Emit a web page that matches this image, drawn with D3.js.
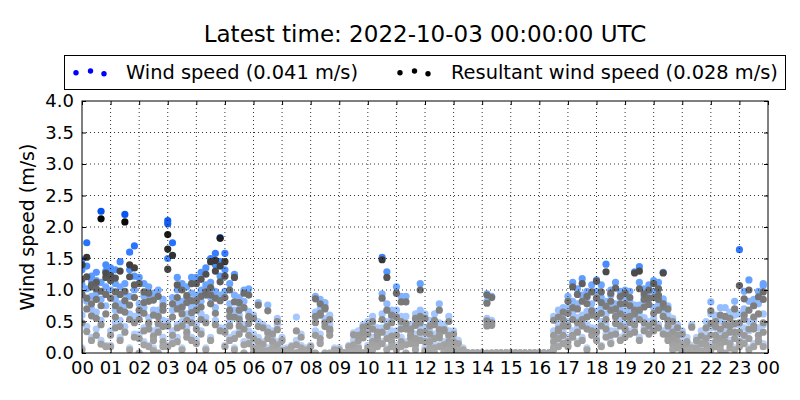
<!DOCTYPE html>
<html>
<head>
<meta charset="utf-8">
<script src="https://cdn.jsdelivr.net/npm/d3@7"></script>
<style>
  body { margin: 0; background: #fff; }
  svg { display: block; font-family: "DejaVu Sans", sans-serif; }
</style>
</head>
<body>
<div id="chart"></div>
<script>
// hour-of-day tick labels and y ticks
const hourLabels = ["00","01","02","03","04","05","06","07","08","09","10","11","12",
  "13","14","15","16","17","18","19","20","21","22","23","00"];
const yTicks = [0, 0.5, 1, 1.5, 2, 2.5, 3, 3.5, 4];

// minutes after midnight of each 10-minute sample
const minutes = [
  0,10,20,30,40,50, 60,70,80,90,100,110, 120,130,140,150,160,170, 180,190,200,210,220,230,
  240,250,260,270,280,290, 300,310,320,330,340,350, 360,370,380,390,400,410, 420,430,440,450,460,470,
  480,490,500,510,520,530, 540,550,560,570,580,590, 600,610,620,630,640,650, 660,670,680,690,700,710,
  720,730,740,750,760,770, 780,790,800,810,820,830, 840,850,860,870,880,890, 900,910,920,930,940,950,
  960,970,980,990,1000,1010, 1020,1030,1040,1050,1060,1070, 1080,1090,1100,1110,1120,1130, 1140,1150,1160,1170,1180,1190,
  1200,1210,1220,1230,1240,1250, 1260,1270,1280,1290,1300,1310, 1320,1330,1340,1350,1360,1370, 1380,1390,1400,1410,1420,1430
];

// wind speed (m/s), one array per day, overlaid by time of day
const windDay1 = [
  1.48,1.75,1.15,0.95,2.25,1.3, 1.25,0.85,1.45,2.2,1.6,1.7, 1.2,0.9,1.05,0.68,1.0,0.85, 2.1,1.75,0.78,1.1,0.88,1.2,
  1.2,1.0,1.35,1.5,1.4,1.83, 1.58,1.1,1.25,0.88,1.0,1.02, 0.6,0.8,0.45,0.76,0.35,0.55, 0.25,0.08,0.12,0.57,0.3,0.08,
  0.12,0.9,0.65,0.75,0.4,0.08, 0.08,0,0.12,0.32,0.25,0.45, 0.35,0.58,0.2,1.52,1.29,0.68, 1.05,0.58,0.9,0.4,0.62,1.1,
  0.62,0.35,0.5,0.78,0.4,0.58, 0.35,0.2,0.08,0,0,0, 0,0.94,0.9,0,0,0, 0,0,0,0,0,0,
  0,0,0,0.58,0.4,0.72, 0.9,1.12,0.78,1.18,0.98,0.68, 1.16,0.88,1.41,1.0,0.78,0.98, 1.0,0.82,1.29,1.37,0.9,1.08,
  1.15,0.9,1.28,0.75,0.55,0.45, 0.35,0.12,0.45,0.25,0.18,0.5, 0.81,0.6,0.72,0.55,0.65,0.82, 1.64,0.7,1.16,0.85,0.98,1.07
];
const windDay2 = [
  1.08,1.38,0.7,1.28,0.85,1.4, 1.0,1.32,0.52,1.1,0.9,1.22, 0.62,1.1,0.45,0.95,0.58,0.8, 2.05,0.68,1.2,0.82,1.05,0.72,
  0.92,1.28,1.02,1.12,1.58,1.22, 1.32,0.78,0.92,0.6,0.82,0.66, 0.3,0.5,0.18,0.4,0.25,0.45, 0.08,0,0,0.2,0.12,0,
  0,0.55,0.85,0.5,0.6,0, 0,0,0.08,0.2,0.35,0.3, 0.5,0.25,0.4,0.94,0.78,0.35, 0.68,0.9,0.45,0.3,0.5,0.68,
  0.25,0.52,0.62,0.3,0.45,0.35, 0.12,0.08,0,0,0,0, 0,0.82,0.52,0,0,0, 0,0,0,0,0,0,
  0,0,0,0.35,0.68,0.5, 0.5,0.82,1.02,0.6,0.88,1.08, 0.66,1.08,0.82,0.92,1.12,0.7, 0.66,0.98,0.76,1.12,1.02,0.86,
  0.98,1.12,0.82,0.6,0.4,0.35, 0.08,0.25,0.12,0.08,0.35,0.3, 0.4,0.55,0.32,0.72,0.45,0.6, 0.62,0.98,0.82,0.55,0.78,1.1
];
const windDay3 = [
  0.6,1.02,1.22,0.38,1.12,0.75, 1.35,0.68,1.05,0.42,1.32,0.58, 0.3,0.72,0.92,0.35,0.68,0.52, 1.5,0.35,1.0,0.5,0.62,0.95,
  0.78,0.62,1.08,0.88,0.98,1.45, 0.98,0.5,0.68,0.78,0.45,0.56, 0.12,0.25,0.08,0.3,0.12,0.18, 0,0,0,0,0,0,
  0,0.35,0.7,0.8,0.45,0, 0,0,0,0.08,0.12,0.4, 0.12,0.45,0.3,0.62,0.5,0.58, 0.35,0.25,0.58,0.45,0.18,0.4,
  0.4,0.12,0.3,0.48,0.18,0.25, 0.25,0,0,0,0,0, 0,0.55,0.48,0,0,0, 0,0,0,0,0,0,
  0,0,0,0.25,0.45,0.62, 0.72,0.35,0.56,0.92,0.45,0.78, 0.98,0.5,0.62,0.78,0.56,0.88, 0.88,0.56,0.72,0.62,0.82,0.98,
  0.72,1.02,0.66,0.5,0.3,0.25, 0.2,0,0.08,0.12,0,0.2, 0.62,0.28,0.5,0.38,0.58,0.32, 0.45,0.68,0.5,0.75,0.4,0.62
];
const windDay4 = [
  1.32,0.42,0.9,1.15,0.2,1.05, 0.35,1.1,0.78,0.95,0.62,1.0, 0.78,0.18,0.56,0.08,0.4,0.25, 0.5,0.88,0.25,0.72,0.4,0.56,
  0.45,0.82,0.56,1.02,0.72,0.92, 0.4,0.66,0.3,0.5,0.18,0.35, 0,0.12,0,0.08,0,0.08, 0,0,0,0,0,0,
  0,0.65,0.3,0.55,0.35,0, 0,0,0,0,0.08,0, 0.08,0.2,0.35,0.4,0.3,0.25, 0.12,0.45,0.18,0.35,0.3,0.56,
  0.08,0.25,0.12,0.35,0.08,0.18, 0,0,0,0,0,0, 0,0.46,0,0,0,0, 0,0,0,0,0,0,
  0,0,0,0.12,0.3,0.35, 0.25,0.62,0.4,0.5,0.66,0.35, 0.4,0.72,0.45,0.35,0.66,0.5, 0.45,0.66,0.4,0.76,0.56,0.5,
  0.55,0.76,0.86,0.35,0.18,0.12, 0,0.08,0,0,0.08,0.08, 0.15,0.4,0.2,0.28,0.15,0.45, 0.3,0.4,0.35,0.52,0.28,0.45
];
const windDay5 = [
  0.08,0.82,0.25,0.65,0.52,0.12, 0.12,0.48,0.25,0.75,0.08,0.3, 0,0.4,0.12,0.25,0,0.12, 0.12,0.2,0.45,0.08,0.3,0.25,
  0.2,0.35,0.08,0.25,0.52,0.4, 0.12,0.25,0.08,0.35,0,0.18, 0,0,0,0,0,0, 0,0,0,0,0,0,
  0,0,0.18,0,0,0, 0,0,0,0,0,0, 0,0.08,0.12,0.18,0.08,0.12, 0.08,0.12,0,0.18,0.08,0.25,
  0,0.08,0,0.12,0,0.08, 0,0,0,0,0,0, 0,0,0,0,0,0, 0,0,0,0,0,0,
  0,0,0,0.08,0.12,0.18, 0.12,0.3,0.18,0.25,0.08,0.4, 0.25,0.12,0.3,0.18,0.35,0.25, 0.3,0.35,0.52,0.25,0.4,0.35,
  0.4,0.45,0.35,0.25,0.08,0.12, 0,0,0,0,0,0, 0.08,0.15,0.08,0,0.2,0.08, 0.15,0.2,0.08,0.15,0.25,0.15
];

// resultant wind speed (m/s), same samples
const resDay1 = [
  1.4,1.52,1.05,0.85,2.13,1.2, 1.15,0.75,1.3,2.08,1.4,1.35, 1.1,0.8,0.95,0.6,0.9,0.75, 1.88,1.55,0.7,1.0,0.8,1.1,
  1.1,0.9,1.25,1.45,1.3,1.82, 1.45,1.0,1.2,0.8,0.95,0.92, 0.55,0.76,0.4,0.67,0.3,0.5, 0.2,0.05,0.1,0.35,0.25,0.05,
  0.1,0.86,0.6,0.7,0.35,0.05, 0.05,0,0.1,0.29,0.2,0.41, 0.3,0.5,0.15,1.48,1.2,0.6, 0.95,0.5,0.81,0.35,0.55,1.0,
  0.55,0.3,0.45,0.68,0.35,0.5, 0.3,0.15,0.05,0,0,0, 0,0.92,0.88,0,0,0, 0,0,0,0,0,0,
  0,0,0,0.52,0.35,0.65, 0.82,1.05,0.7,1.1,0.9,0.6, 1.14,0.8,1.29,0.95,0.7,0.9, 0.95,0.75,1.27,1.3,0.85,1.0,
  1.1,0.85,1.27,0.7,0.5,0.4, 0.3,0.1,0.41,0.2,0.15,0.4, 0.67,0.5,0.6,0.45,0.55,0.7, 1.07,0.6,1.0,0.75,0.89,0.85
];
const resDay2 = [
  0.93,1.21,0.59,1.12,0.75,1.27, 0.87,1.19,0.42,0.98,0.76,1.08, 0.53,0.97,0.38,0.84,0.47,0.68, 1.65,0.57,1.08,0.73,0.91,0.64,
  0.83,1.17,0.92,1.04,1.47,1.13, 1.22,0.68,0.81,0.54,0.72,0.58, 0.23,0.42,0.14,0.33,0.18,0.37, 0.04,0,0,0.13,0.08,0,
  0,0.48,0.78,0.42,0.53,0, 0,0,0.03,0.13,0.28,0.24, 0.43,0.18,0.33,0.87,0.68,0.27, 0.57,0.81,0.38,0.23,0.44,0.58,
  0.18,0.43,0.52,0.24,0.37,0.28, 0.08,0.04,0,0,0,0, 0,0.79,0.48,0,0,0, 0,0,0,0,0,0,
  0,0,0,0.28,0.57,0.43, 0.43,0.72,0.93,0.53,0.78,0.97, 0.58,0.97,0.74,0.82,1.03,0.62, 0.57,0.88,0.68,1.02,0.94,0.77,
  0.88,1.02,0.73,0.52,0.33,0.28, 0.04,0.18,0.08,0.03,0.27,0.23, 0.28,0.42,0.23,0.58,0.33,0.47, 0.48,0.86,0.68,0.43,0.62,0.97
];
const resDay3 = [
  0.48,0.87,1.08,0.28,0.98,0.62, 1.23,0.57,0.93,0.33,1.21,0.48, 0.23,0.63,0.82,0.27,0.58,0.42, 1.33,0.28,0.88,0.43,0.52,0.83,
  0.68,0.53,0.97,0.78,0.87,1.38, 0.88,0.43,0.57,0.68,0.38,0.47, 0.08,0.18,0.04,0.23,0.08,0.13, 0,0,0,0,0,0,
  0,0.28,0.63,0.72,0.38,0, 0,0,0,0.04,0.08,0.33, 0.08,0.38,0.23,0.53,0.42,0.48, 0.28,0.18,0.47,0.38,0.13,0.33,
  0.33,0.08,0.23,0.37,0.13,0.18, 0.18,0,0,0,0,0, 0,0.51,0.44,0,0,0, 0,0,0,0,0,0,
  0,0,0,0.18,0.38,0.53, 0.63,0.28,0.48,0.82,0.38,0.67, 0.87,0.43,0.53,0.68,0.47,0.78, 0.78,0.48,0.62,0.53,0.73,0.87,
  0.63,0.92,0.58,0.43,0.23,0.18, 0.13,0,0.04,0.08,0,0.13, 0.47,0.18,0.38,0.28,0.43,0.23, 0.33,0.53,0.38,0.57,0.28,0.48
];
const resDay4 = [
  1.17,0.34,0.78,1.02,0.14,0.93, 0.28,0.97,0.68,0.83,0.53,0.88, 0.68,0.13,0.48,0.04,0.33,0.18, 0.43,0.78,0.18,0.62,0.33,0.48,
  0.38,0.73,0.48,0.92,0.63,0.83, 0.33,0.58,0.23,0.43,0.13,0.28, 0,0.08,0,0.04,0,0.03, 0,0,0,0,0,0,
  0,0.58,0.23,0.48,0.28,0, 0,0,0,0,0.04,0, 0.04,0.13,0.28,0.33,0.23,0.18, 0.08,0.38,0.13,0.28,0.23,0.48,
  0.04,0.18,0.08,0.28,0.03,0.13, 0,0,0,0,0,0, 0,0.43,0,0,0,0, 0,0,0,0,0,0,
  0,0,0,0.08,0.23,0.28, 0.18,0.53,0.33,0.43,0.57,0.28, 0.33,0.63,0.38,0.28,0.58,0.43, 0.38,0.58,0.33,0.68,0.48,0.43,
  0.48,0.68,0.78,0.28,0.13,0.08, 0,0.04,0,0,0.03,0.04, 0.08,0.28,0.13,0.18,0.08,0.33, 0.18,0.28,0.23,0.38,0.18,0.33
];
const resDay5 = [
  0.05,0.7,0.2,0.55,0.45,0.1, 0.1,0.4,0.2,0.65,0.05,0.25, 0,0.35,0.1,0.2,0,0.1, 0.1,0.15,0.4,0.05,0.25,0.2,
  0.15,0.3,0.05,0.2,0.45,0.35, 0.1,0.2,0.05,0.3,0,0.15, 0,0,0,0,0,0, 0,0,0,0,0,0,
  0,0,0.15,0,0,0, 0,0,0,0,0,0, 0,0.05,0.1,0.15,0.05,0.1, 0.05,0.1,0,0.15,0.05,0.2,
  0,0.05,0,0.1,0,0.05, 0,0,0,0,0,0, 0,0,0,0,0,0, 0,0,0,0,0,0,
  0,0,0,0.05,0.1,0.15, 0.1,0.25,0.15,0.2,0.05,0.35, 0.2,0.1,0.25,0.15,0.3,0.2, 0.25,0.3,0.45,0.2,0.35,0.3,
  0.35,0.4,0.3,0.2,0.05,0.1, 0,0,0,0,0,0, 0.05,0.1,0.05,0,0.15,0.05, 0.1,0.15,0.05,0.1,0.2,0.1
];

const windDays = [windDay1, windDay2, windDay3, windDay4, windDay5];
const resDays = [resDay1, resDay2, resDay3, resDay4, resDay5];

const latestWind = 0.041, latestRes = 0.028;
const titleText = "Latest time: 2022-10-03 00:00:00 UTC";

const width = 800, height = 400;
const margin = {top: 101, right: 32, bottom: 47, left: 82};

const svg = d3.select("#chart").append("svg")
  .attr("width", width)
  .attr("height", height);

svg.append("rect").attr("width", width).attr("height", height).attr("fill", "#fff");

const x = d3.scaleLinear().domain([0, 1440]).range([margin.left, width - margin.right]);
const y = d3.scaleLinear().domain([0, 4]).range([height - margin.bottom, margin.top]);

// colour gets stronger with speed
const windColor = d3.scaleLinear()
  .domain([0, 0.6, 1.2, 1.7, 2.3])
  .range(["#c2d5f5", "#a3c6ff", "#5c9cff", "#2a74ff", "#0050ee"])
  .clamp(true);
const resColor = d3.scaleLinear()
  .domain([0, 0.5, 1.0, 1.4, 2.1])
  .range(["#a9a9a9", "#8e8e8e", "#6a6a6a", "#3e3e3e", "#080808"])
  .clamp(true);

svg.append("clipPath").attr("id", "plot-clip")
  .append("rect")
  .attr("x", x(0)).attr("y", y(4))
  .attr("width", x(1440) - x(0)).attr("height", y(0) - y(4));

const pts = svg.append("g").attr("clip-path", "url(#plot-clip)");

function flatten(days) {
  const out = [];
  days.forEach(day => day.forEach((v, i) => out.push({t: minutes[i], v: v})));
  return out;
}

pts.selectAll(".wind")
  .data(flatten(windDays))
  .enter().append("circle")
  .attr("class", "wind")
  .attr("cx", d => x(d.t))
  .attr("cy", d => y(d.v))
  .attr("r", 3.6)
  .attr("fill", d => windColor(d.v));

pts.selectAll(".res")
  .data(flatten(resDays))
  .enter().append("circle")
  .attr("class", "res")
  .attr("cx", d => x(d.t))
  .attr("cy", d => y(d.v))
  .attr("r", 3.6)
  .attr("fill", d => resColor(d.v));

const hourTicks = d3.range(0, 25);

// dotted grid on top of the points
const grid = svg.append("g")
  .attr("stroke", "#000")
  .attr("stroke-width", 0.8)
  .attr("stroke-dasharray", "1,3");
grid.selectAll(".gx")
  .data(hourTicks.slice(1, -1))
  .enter().append("line")
  .attr("x1", d => x(d * 60)).attr("x2", d => x(d * 60))
  .attr("y1", y(0)).attr("y2", y(4));
grid.selectAll(".gy")
  .data(yTicks.slice(1, -1))
  .enter().append("line")
  .attr("x1", x(0)).attr("x2", x(1440))
  .attr("y1", d => y(d)).attr("y2", d => y(d));

const tickMinutes = hourTicks.map(h => h * 60);

svg.append("g")
  .attr("transform", `translate(0,${y(0)})`)
  .call(d3.axisBottom(x).tickValues(tickMinutes).tickFormat((d, i) => hourLabels[i])
    .tickSizeInner(-4).tickSizeOuter(0).tickPadding(8));
svg.append("g")
  .attr("transform", `translate(0,${y(4)})`)
  .call(d3.axisTop(x).tickValues(tickMinutes).tickFormat("")
    .tickSizeInner(-4).tickSizeOuter(0));
svg.append("g")
  .attr("transform", `translate(${x(0)},0)`)
  .call(d3.axisLeft(y).tickValues(yTicks).tickFormat(d3.format(".1f"))
    .tickSizeInner(-4).tickSizeOuter(0).tickPadding(8));
svg.append("g")
  .attr("transform", `translate(${x(1440)},0)`)
  .call(d3.axisRight(y).tickValues(yTicks).tickFormat("")
    .tickSizeInner(-4).tickSizeOuter(0));

svg.selectAll(".tick text")
  .attr("font-family", "DejaVu Sans, sans-serif")
  .attr("font-size", 18)
  .attr("fill", "#000");
svg.selectAll(".domain").remove();

// frame
svg.append("rect")
  .attr("x", x(0)).attr("y", y(4))
  .attr("width", x(1440) - x(0)).attr("height", y(0) - y(4))
  .attr("fill", "none").attr("stroke", "#000").attr("stroke-width", 1);

svg.append("text")
  .attr("transform", `translate(34,${(y(0) + y(4)) / 2}) rotate(-90)`)
  .attr("text-anchor", "middle")
  .attr("font-size", 19)
  .text("Wind speed (m/s)");

svg.append("text")
  .attr("x", (x(0) + x(1440)) / 2)
  .attr("y", 42)
  .attr("text-anchor", "middle")
  .attr("font-size", 23)
  .text(titleText);

// legend
const legend = svg.append("g");
legend.append("rect")
  .attr("x", 64.5).attr("y", 55.5)
  .attr("width", 721).attr("height", 34)
  .attr("fill", "#fff").attr("stroke", "#000").attr("stroke-width", 1);

const legendItems = [
  {label: `Wind speed (${latestWind} m/s)`, color: "#0000ff", dotX: 76, textX: 126},
  {label: `Resultant wind speed (${latestRes} m/s)`, color: "#000", dotX: 400, textX: 451}
];
const dotOffsets = [[0, 72.7], [14.5, 71], [28, 73.7]];
legendItems.forEach(item => {
  legend.selectAll(null)
    .data(dotOffsets)
    .enter().append("circle")
    .attr("cx", d => item.dotX + d[0])
    .attr("cy", d => d[1])
    .attr("r", 2.7)
    .attr("fill", item.color);
  legend.append("text")
    .attr("x", item.textX)
    .attr("y", 78.5)
    .attr("font-size", 19.4)
    .text(item.label);
});
</script>
</body>
</html>
